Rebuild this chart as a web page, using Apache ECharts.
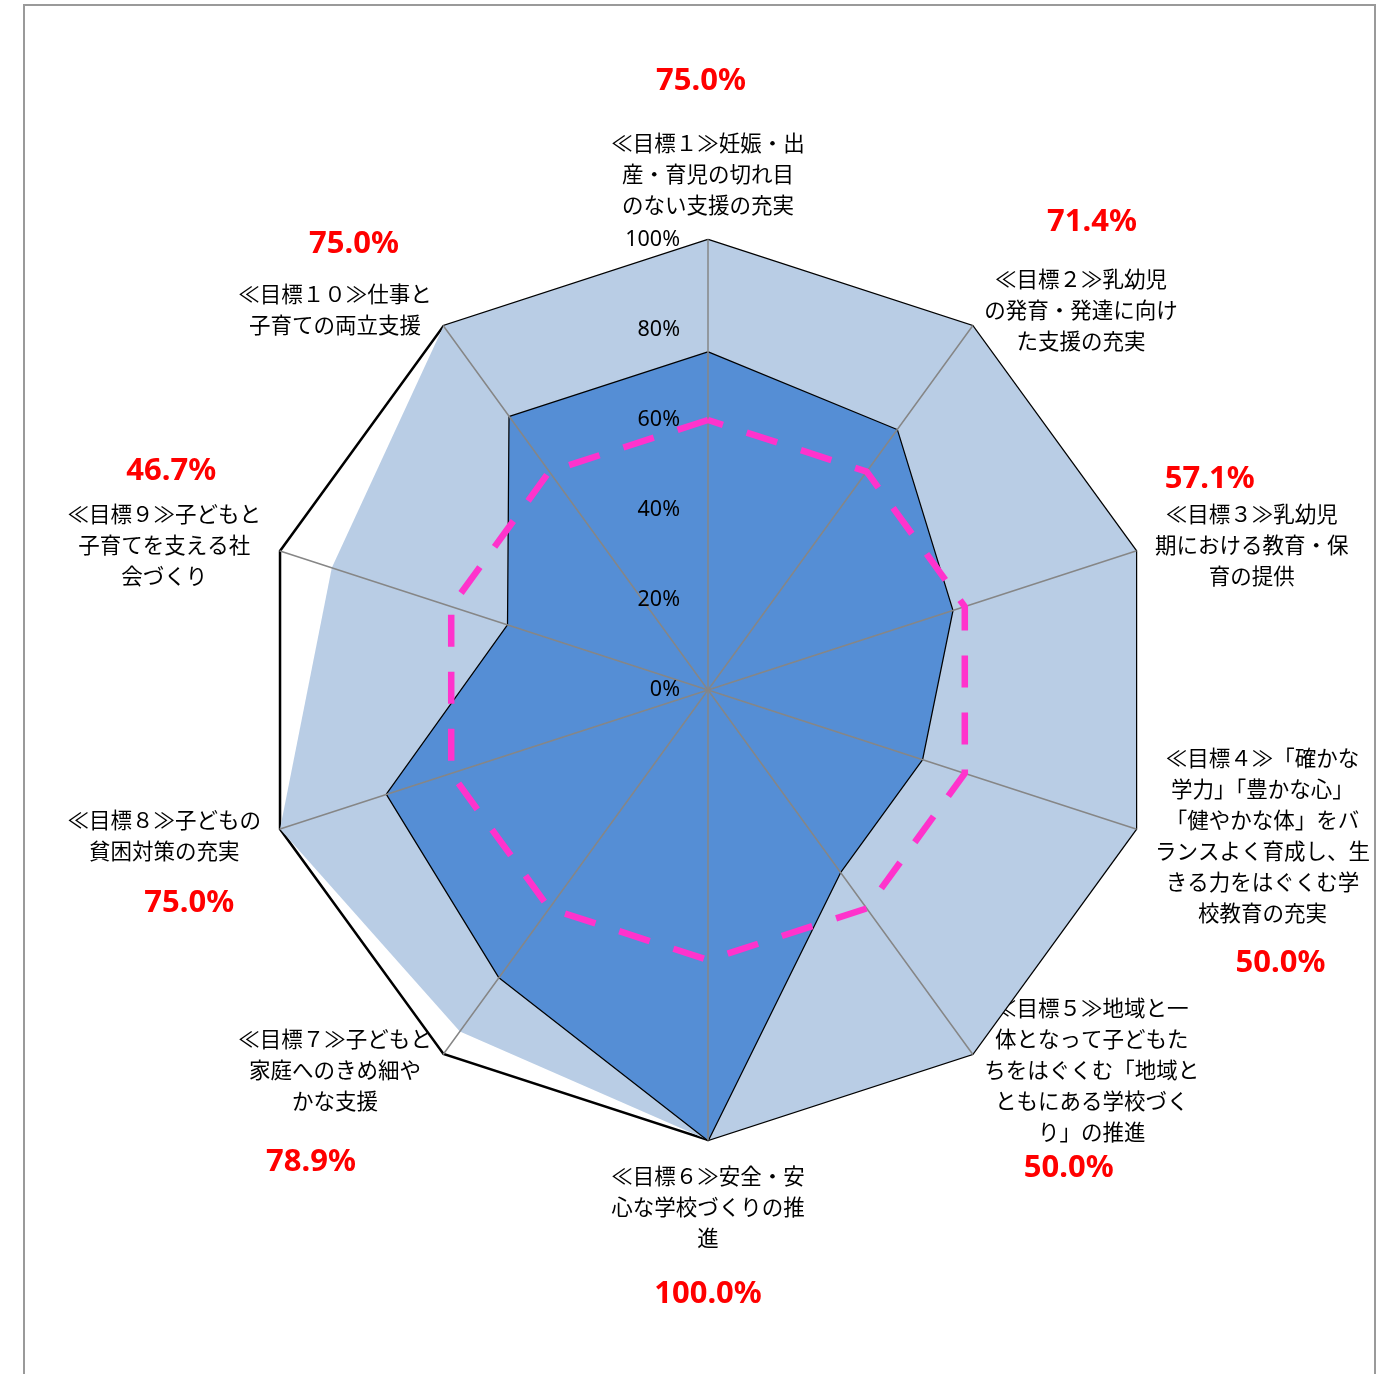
<!DOCTYPE html>
<html>
<head>
<meta charset="utf-8">
<script src="https://cdn.jsdelivr.net/npm/echarts@6/dist/echarts.min.js"></script>
<style>
  html, body { margin: 0; padding: 0; background: #fff; }
  #frame { position: absolute; left: 23px; top: 4px; width: 1353px; height: 1400px; border: 2px solid #9a9a9a; box-sizing: border-box; }
  #chart { position: absolute; left: 0; top: 0; width: 1388px; height: 1374px; }
</style>
</head>
<body>
<div id="frame"></div>
<div id="chart"></div>
<script>
// ---- data ----
const goalNames = [
  '≪目標１≫妊娠・出\n産・育児の切れ目\nのない支援の充実',
  '≪目標２≫乳幼児\nの発育・発達に向け\nた支援の充実',
  '≪目標３≫乳幼児\n期における教育・保\n育の提供',
  '≪目標４≫「確かな\n学力」「豊かな心」\n「健やかな体」をバ\nランスよく育成し、生\nきる力をはぐくむ学\n校教育の充実',
  '≪目標５≫地域と一\n体となって子どもた\nちをはぐくむ「地域と\nともにある学校づく\nり」の推進',
  '≪目標６≫安全・安\n心な学校づくりの推\n進',
  '≪目標７≫子どもと\n家庭へのきめ細や\nかな支援',
  '≪目標８≫子どもの\n貧困対策の充実',
  '≪目標９≫子どもと\n子育てを支える社\n会づくり',
  '≪目標１０≫仕事と\n子育ての両立支援'
];
const achieved = [0.75, 0.714, 0.571, 0.50, 0.50, 1.00, 0.789, 0.75, 0.467, 0.75];
const reference = [1.00, 1.00, 1.00, 1.00, 1.00, 1.00, 0.938, 1.00, 0.879, 1.00];
const target = [0.60, 0.60, 0.60, 0.60, 0.60, 0.60, 0.60, 0.60, 0.60, 0.60];
const axisMin = 0, axisMax = 1;

// ECharts lays radar axes counter-clockwise; the reference runs clockwise from the top.
const order = [0, 9, 8, 7, 6, 5, 4, 3, 2, 1];
const pick = arr => order.map(i => arr[i]);

// ---- label layout (styling only) ----
const labelLayout = [
  { pos: 'above', gap: 30, shift: -7, mirror: false },
  { pos: 'above', gap: 26, shift: 11, mirror: true },
  { pos: 'above', gap: 4, shift: -42, mirror: true },
  { pos: 'below', gap: 19, shift: 18, mirror: true },
  { pos: 'below', gap: 5, shift: -23, mirror: true },
  { pos: 'below', gap: 26, shift: 0, mirror: false },
  { pos: 'below', gap: 30, shift: -24, mirror: true },
  { pos: 'below', gap: 21, shift: 25, mirror: true },
  { pos: 'above', gap: 12, shift: 7, mirror: true },
  { pos: 'above', gap: 19, shift: 19, mirror: true }
];
const LINE_H = 31;
const rich = {
  n: { fontFamily: 'Noto Sans CJK JP', fontSize: 21.5, lineHeight: LINE_H, color: '#000', align: 'center' }
};
labelLayout.forEach((c, i) => {
  const pad = c.shift >= 0 ? [0, 0, 0, 2 * c.shift] : [0, -2 * c.shift, 0, 0];
  rich['v' + i] = { fontFamily: 'Noto Sans', fontWeight: 'bold', fontSize: 31, lineHeight: LINE_H, color: '#FF0000', align: 'center', padding: pad };
  rich['s' + i] = { fontSize: 1, lineHeight: Math.max(1, c.gap) };
  rich['m' + i] = { fontSize: 1, lineHeight: LINE_H + c.gap };
});

function nameFormatter(name) {
  const i = goalNames.indexOf(name);
  const c = labelLayout[i];
  const lines = name.split('\n').map(l => '{n|' + l + '}');
  const v = '{v' + i + '|' + (achieved[i] * 100).toFixed(1) + '%}';
  const s = '{s' + i + '| }';
  const m = '{m' + i + '| }';
  let parts;
  if (c.pos === 'above') {
    parts = [v, s].concat(lines);
    if (c.mirror) parts.push(m);
  } else {
    parts = lines.concat([s, v]);
    if (c.mirror) parts.unshift(m);
  }
  return parts.join('\n');
}

const CENTER = [708, 690];
const RADIUS = 450;

const indicatorsBase = pick(goalNames).map(n => ({ name: n, min: axisMin, max: axisMax }));
const indicatorsTop = pick(goalNames).map((n, i) => {
  const o = { name: n, min: axisMin, max: axisMax };
  if (i === 0) o.axisLabel = { show: true };
  return o;
});

const chart = echarts.init(document.getElementById('chart'), null, { renderer: 'canvas' });
chart.setOption({
  animation: false,
  radar: [
    {
      z: 1,
      center: CENTER,
      radius: RADIUS,
      startAngle: 90,
      shape: 'polygon',
      splitNumber: 5,
      indicator: indicatorsBase,
      axisName: { show: true, formatter: nameFormatter, rich: rich, color: '#000' },
      nameGap: 20,
      axisLine: { show: false },
      axisTick: { show: false },
      axisLabel: { show: false },
      splitArea: { show: false },
      splitLine: { show: true, lineStyle: { color: ['rgba(0,0,0,0)', 'rgba(0,0,0,0)', 'rgba(0,0,0,0)', 'rgba(0,0,0,0)', 'rgba(0,0,0,0)', '#000'], width: 2.5 } }
    },
    {
      z: 3,
      center: CENTER,
      radius: RADIUS,
      startAngle: 90,
      shape: 'polygon',
      splitNumber: 5,
      indicator: indicatorsTop,
      axisName: { show: false },
      axisLine: { show: true, lineStyle: { color: '#868686', width: 1.5 } },
      axisTick: { show: false },
      axisLabel: {
        show: false,
        formatter: v => Math.round(v * 100) + '%',
        fontFamily: 'Noto Sans',
        fontSize: 21.5,
        color: '#000',
        margin: 28
      },
      splitArea: { show: false },
      splitLine: { show: false }
    }
  ],
  series: [
    {
      type: 'radar', radarIndex: 0, z: 2, symbol: 'none', silent: true,
      lineStyle: { width: 0, color: '#B9CDE5' },
      areaStyle: { color: '#B9CDE5', opacity: 1 },
      data: [{ value: pick(reference), name: 'reference' }]
    },
    {
      type: 'radar', radarIndex: 0, z: 2, symbol: 'none', silent: true,
      lineStyle: { width: 2.5, color: '#000' },
      areaStyle: { color: '#558ED5', opacity: 1 },
      data: [{ value: pick(achieved), name: 'achieved' }]
    },
    {
      type: 'radar', radarIndex: 0, z: 4, symbol: 'none', silent: true,
      lineStyle: { width: 6.5, color: '#FF33CC', type: [32, 25] },
      data: [{ value: pick(target), name: 'target' }]
    }
  ]
});
</script>
</body>
</html>
